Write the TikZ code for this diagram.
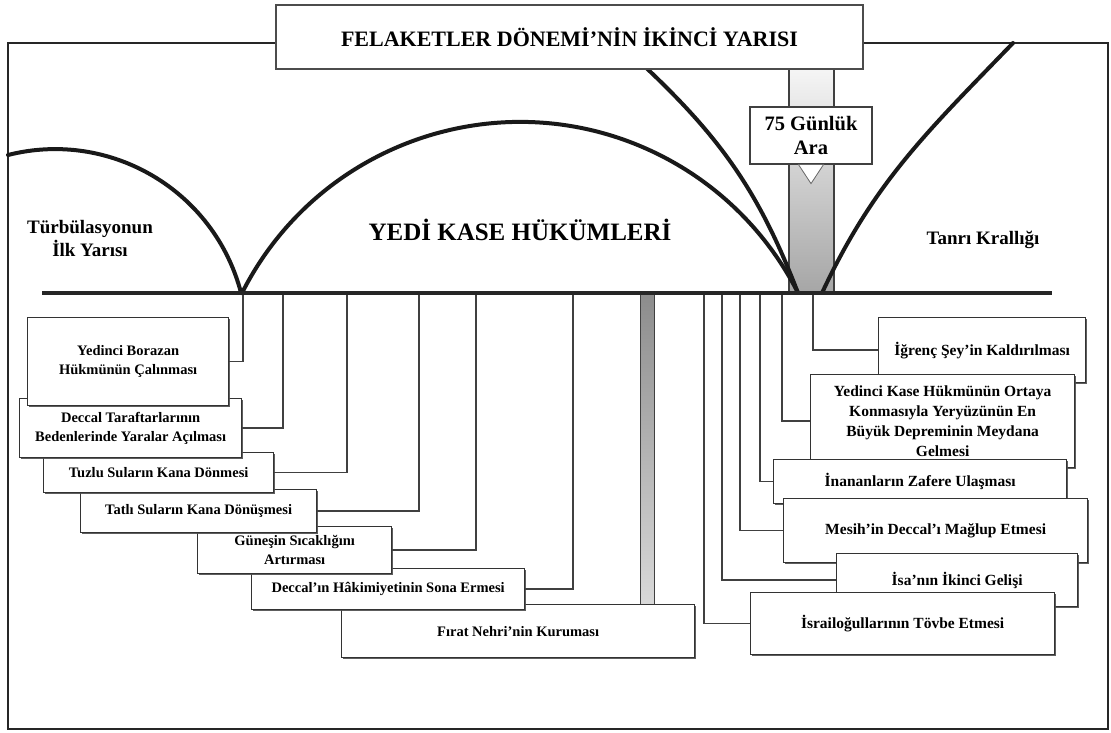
\documentclass[tikz,border=0pt]{standalone}
\usepackage{fontspec}
\setmainfont{Liberation Serif}
\usetikzlibrary{shadows}

\begin{document}
\begin{tikzpicture}[
        x=1pt, y=1pt, % 1 birim = 1 piksel
        frame/.style={draw=black!85, line width=2.6pt},
        arch/.style={draw=black!90, line width=4pt, line cap=round},
        link/.style={draw=black!75, line width=1.4pt},
        kutu/.style={draw=black!80, line width=1.3pt, fill=white, align=center, anchor=north west, inner sep=2pt,
            drop shadow={shadow xshift=1.3pt, shadow yshift=-1.3pt, fill=black!70, opacity=0.9}},
        sol/.style={kutu, font=\fontsize{14.5}{19.5}\selectfont\bfseries}, % sol kutular
        sag/.style={kutu, font=\fontsize{15.5}{20}\selectfont\bfseries}, % sag kutular
        etiket/.style={align=center, font=\fontsize{19}{23}\selectfont\bfseries},
    ]
    \useasboundingbox (0,0) rectangle (1111,-733);

    % cerceve
    \draw[frame] (8,-43) rectangle (1108,-729);

    % 75 gunluk ara sutunu
    \shade[top color=gray!8, bottom color=gray!70, draw=black!75, line width=1.2pt] (789,-69) rectangle (834,-293);

    % yaylar
    \draw[arch] (8,-155) arc[start angle=104.2, end angle=14.5, radius=192.1];
    \draw[arch] (242,-293) arc[start angle=153.2, end angle=26.8, radius=311.5];
    \draw[arch] (640,-62) to[out=-43, in=111] (798,-293);
    \draw[arch] (822,-293) to[out=65, in=-134] (1013,-43);

    \node[draw=black!70, line width=1.3pt, fill=white, minimum width=587, minimum height=64,
        font=\fontsize{22}{26}\selectfont\bfseries] (baslik) at (569.5,-37) {FELAKETLER DÖNEMİ’NİN İKİNCİ YARISI};
    \node[draw=black!75, line width=1.2pt, fill=white, minimum width=122, minimum height=57, align=center,
        font=\fontsize{20.5}{24}\selectfont\bfseries] (ara) at (811,-135.5) {75 Günlük\\Ara};
    \filldraw[fill=white, draw=black!60, line width=0.8pt] ([xshift=-12.5]ara.south) -- ([xshift=12.5]ara.south)
        -- ([yshift=-19]ara.south) -- cycle;

    \node[etiket] (turb) at (90,-238.5) {Türbülasyonun\\İlk Yarısı};
    \node[font=\fontsize{25}{30}\selectfont\bfseries] (yedi) at (520,-230) {YEDİ KASE HÜKÜMLERİ};
    \node[etiket] (tanri) at (983,-240) {Tanrı Krallığı};

    % sol kutular (alttan uste)
    \shade[top color=gray!90, bottom color=gray!30, draw=black!75, line width=1pt] (640,-293) rectangle (654,-604);
    \node[sol, minimum width=353, minimum height=53] (l7) at (341,-604) {Fırat Nehri’nin Kuruması};
    \node[sol, minimum width=273, minimum height=41] (l6) at (251,-568) {Deccal’ın Hâkimiyetinin Sona Ermesi};
    \node[sol, minimum width=194, minimum height=47] (l5) at (197,-526) {Güneşin Sıcaklığını\\Artırması};
    \node[sol, minimum width=236, minimum height=43] (l4) at (80,-489) {Tatlı Suların Kana Dönüşmesi};
    \node[sol, minimum width=230, minimum height=40] (l3) at (43,-452) {Tuzlu Suların Kana Dönmesi};
    \node[sol, minimum width=222, minimum height=59] (l2) at (19,-398) {Deccal Taraftarlarının\\Bedenlerinde Yaralar Açılması};
    \node[sol, minimum width=201, minimum height=88] (l1) at (27,-317) {Yedinci Borazan\\Hükmünün Çalınması};

    % sag kutular (ustten alta)
    \node[sag, minimum width=207, minimum height=65] (r1) at (878,-317) {İğrenç Şey’in Kaldırılması};
    \node[sag, minimum width=264, minimum height=93] (r2) at (810,-374) {Yedinci Kase Hükmünün Ortaya\\Konmasıyla Yeryüzünün En\\Büyük Depreminin Meydana\\Gelmesi};
    \node[sag, minimum width=293, minimum height=44] (r3) at (773,-459) {İnananların Zafere Ulaşması};
    \node[sag, minimum width=304, minimum height=64] (r4) at (783,-498) {Mesih’in Deccal’ı Mağlup Etmesi};
    \node[sag, minimum width=241, minimum height=53] (r5) at (836,-553) {İsa’nın İkinci Gelişi};
    \node[sag, minimum width=304, minimum height=62] (r6) at (750,-592) {İsrailoğullarının Tövbe Etmesi};

    % baglantilar
    \foreach \i/\x in {1/243, 2/283, 3/347, 4/419, 5/476, 6/573}
        \draw[link] (\x,-293) |- (l\i.east);
    \foreach \i/\x in {1/813, 2/782, 3/760, 4/740, 5/722, 6/704}
        \draw[link] (\x,-293) |- (r\i.west);

    % zaman cizgisi
    \draw[black!85, line width=4pt] (42,-293) -- (1052,-293);
\end{tikzpicture}
\end{document}
